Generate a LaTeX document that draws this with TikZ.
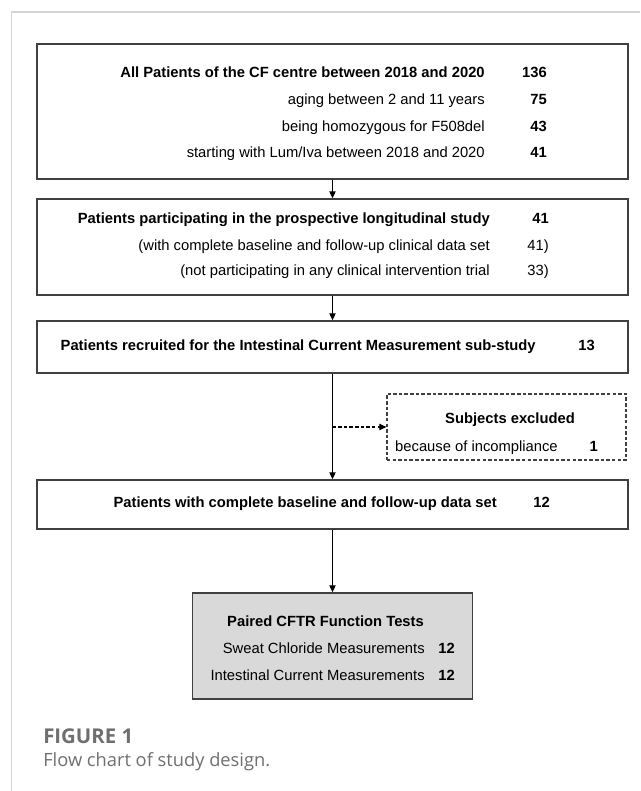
\documentclass[tikz,border=0pt]{standalone}
\usepackage{fontspec}
\setmainfont{Liberation Sans}
\newfontfamily\capfont{Open Sans}
\usetikzlibrary{arrows.meta}
\definecolor{framegray}{HTML}{D4D4D4}
\definecolor{boxline}{HTML}{404040}
\definecolor{testfill}{HTML}{D9D9D9}
\definecolor{capgray}{HTML}{6F6F6F}
\begin{document}
\fontsize{10.5}{12.5}\selectfont
\begin{tikzpicture}[x=0.025cm,y=-0.025cm,>={Triangle[length=5pt,width=4.5pt]},stage/.style={draw=boxline,line width=1pt,inner sep=0pt,minimum width=14.775cm},lbl/.style={anchor=east,inner sep=0pt,text height=7.5pt,text depth=2pt},num/.style={lbl,font=\bfseries},link/.style={line width=0.8pt,->}]
\useasboundingbox (0,0) rectangle (640,791);
\draw[framegray,line width=1pt] (640,12) -- (11.5,12) -- (11.5,791);
\node[stage,minimum height=3.375cm] (all) at (332.5,111.5) {};
\node[stage,minimum height=2.4cm] (prosp) at (332.5,247) {};
\node[stage,minimum height=1.3cm] (icm) at (332.5,347) {};
\node[stage,minimum height=1.225cm] (compl) at (332.5,504.5) {};
\node[stage,minimum width=7cm,minimum height=2.65cm,fill=testfill] (tests) at (332.5,646) {};
\node[stage,line width=0.8pt,dash pattern=on 2.5pt off 1.5pt,minimum width=5.975cm,minimum height=1.65cm] (excl) at (506.5,427) {};
\node[lbl,font=\bfseries] (a0) at (485,74) {All Patients of the CF centre between 2018 and 2020};
\node[lbl] (a1) at (485,101) {aging between 2 and 11 years};
\node[lbl] (a2) at (485,128) {being homozygous for F508del};
\node[lbl] (a3) at (485,154) {starting with Lum/Iva between 2018 and 2020};
\node[num] (an0) at (547,74) {136};
\node[num] (an1) at (547,101) {75};
\node[num] (an2) at (547,128) {43};
\node[num] (an3) at (547,154) {41};
\node[lbl,font=\bfseries] (p0) at (490,220) {Patients participating in the prospective longitudinal study};
\node[lbl] (p1) at (490,247) {(with complete baseline and follow-up clinical data set};
\node[lbl] (p2) at (490,272) {(not participating in any clinical intervention trial};
\node[num] (pn0) at (549,220) {41};
\node[lbl] (pn1) at (549,247) {41)};
\node[lbl] (pn2) at (549,272) {33)};
\node[lbl,font=\bfseries] (i0) at (536,347) {Patients recruited for the Intestinal Current Measurement sub-study};
\node[num] (in0) at (595,347) {13};
\node[lbl,font=\bfseries] (c0) at (497,504) {Patients with complete baseline and follow-up data set};
\node[num] (cn0) at (550,504) {12};
\node[lbl,anchor=center,font=\bfseries] (x0) at (510,420) {Subjects excluded};
\node[lbl] (x1) at (558,448) {because of incompliance};
\node[num] (xn1) at (598,448) {1};
\node[lbl,anchor=center,font=\bfseries] (t0) at (325.5,623) {Paired CFTR Function Tests};
\node[lbl] (t1) at (425,650) {Sweat Chloride Measurements};
\node[lbl] (t2) at (425,677) {Intestinal Current Measurements};
\node[num] (tn1) at (455,650) {12};
\node[num] (tn2) at (455,677) {12};
\coordinate (tap) at (icm.south |- excl.west);
\draw[link] (all) -- (prosp);
\draw[link] (prosp) -- (icm);
\draw[link] (icm) -- (compl);
\draw[link,dash pattern=on 2.5pt off 1.5pt] (tap) -- (excl.west);
\draw[link] (compl) -- (tests);
\node[anchor=west,inner sep=0pt,font=\capfont\fontsize{14.5}{17}\selectfont\bfseries,text=capgray] (fig) at (43,736) {FIGURE 1};
\node[anchor=west,inner sep=0pt,font=\capfont\fontsize{13}{15.5}\selectfont,text=capgray] (cap) at (43,762) {Flow chart of study design.};
\end{tikzpicture}
\end{document}
